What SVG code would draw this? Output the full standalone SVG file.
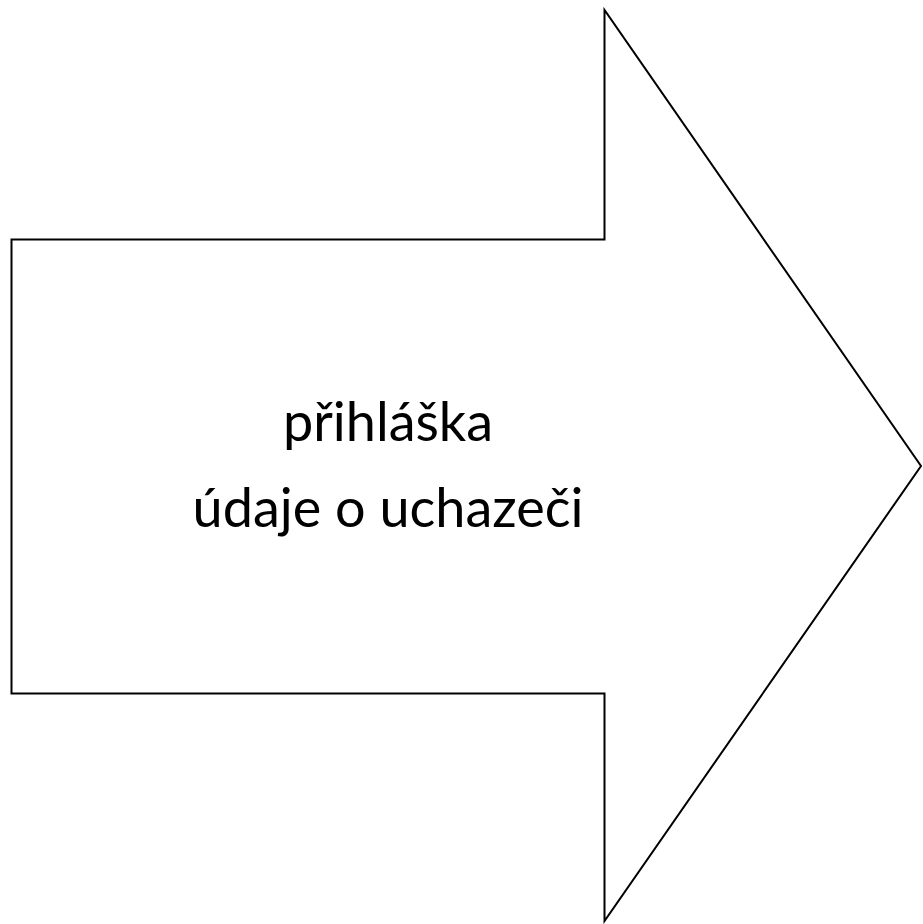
<svg xmlns="http://www.w3.org/2000/svg" width="923" height="924" viewBox="0 0 923 924">
  <style>
    .shape { fill: #ffffff; stroke: #000000; stroke-width: 2; stroke-linejoin: miter; }
    .label { font-family: "Lato", "Open Sans", "Liberation Sans", sans-serif; font-size: 54px; fill: #000000; text-anchor: middle; }
  </style>
  <rect width="923" height="924" fill="#ffffff"/>
  <g id="arrow">
    <path class="shape" d="M11.5,239.5 L604.5,239.5 L604.5,10 L921,466 L604.5,921 L604.5,693.5 L11.5,693.5 Z"/>
    <text class="label" x="388" y="441">přihláška</text>
    <text class="label" x="388" y="527">údaje o uchazeči</text>
  </g>
</svg>
